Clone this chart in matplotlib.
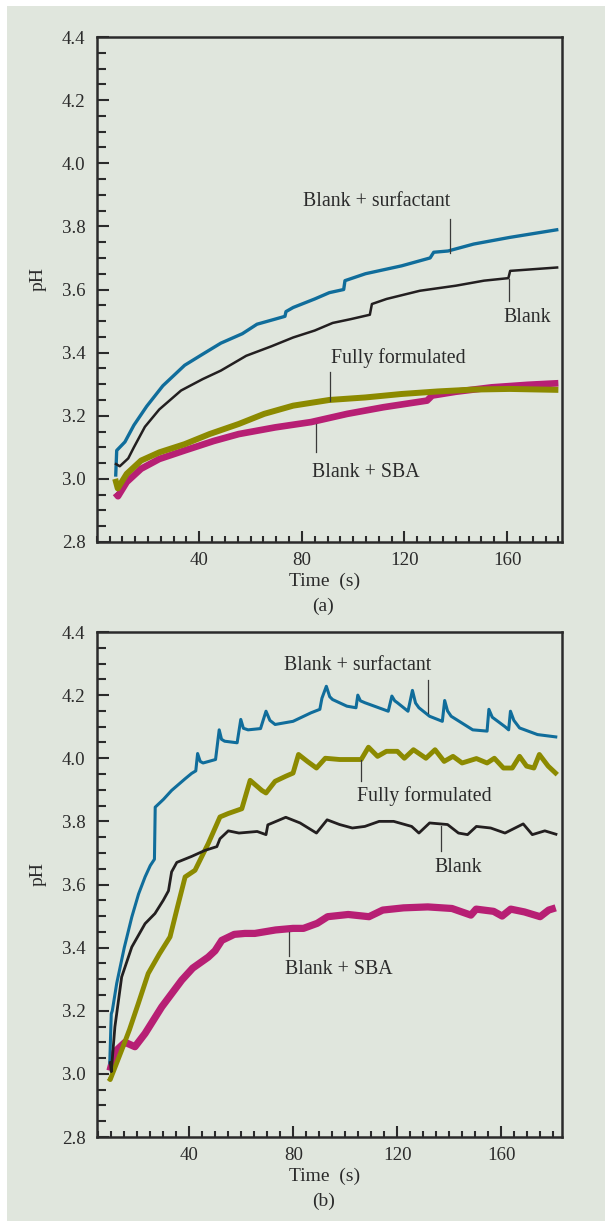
import matplotlib
matplotlib.use('Agg')
import matplotlib.pyplot as plt
from matplotlib.patches import Rectangle
from matplotlib.ticker import MultipleLocator, FixedLocator, FormatStrFormatter

plt.rcParams['font.family'] = ['Liberation Serif', 'DejaVu Serif']

BG = '#e0e6dd'
INK = '#2b2b2b'
BLUE = '#106d9b'
BLACK = '#231f20'
OLIVE = '#8c8a00'
MAGENTA = '#b71f74'

# ---- panel (a): (time s, pH)
a_surfactant = [(7.4, 3.007), (7.8, 3.09), (11.0, 3.117), (14.5, 3.17), (19.5, 3.23), (25.8, 3.295),
                (34.3, 3.36), (41.3, 3.395), (48.4, 3.43), (56.8, 3.46), (62.5, 3.49), (69.5, 3.506),
                (73.4, 3.515), (73.8, 3.53), (76.6, 3.543), (85.0, 3.57), (90.7, 3.59), (96.3, 3.60),
                (96.8, 3.628), (104.8, 3.65), (118.9, 3.675), (130.0, 3.70), (131.4, 3.718),
                (137.0, 3.722), (147.0, 3.744), (161.0, 3.765), (180.0, 3.79)]
a_blank = [(7.1, 3.049), (9.0, 3.04), (12.3, 3.065), (14.5, 3.1), (18.8, 3.165), (24.4, 3.22),
           (32.9, 3.28), (41.3, 3.316), (48.4, 3.343), (58.3, 3.39), (68.1, 3.42), (76.6, 3.448),
           (85.0, 3.47), (92.0, 3.494), (99.0, 3.506), (106.5, 3.52), (107.3, 3.554), (113.0, 3.57),
           (126.0, 3.596), (140.0, 3.612), (151.0, 3.628), (160.5, 3.636), (161.2, 3.659), (180.0, 3.67)]
a_full = [(7.2, 3.0), (8.2, 2.97), (11.7, 3.016), (17.3, 3.058), (24.4, 3.084), (34.3, 3.11),
          (44.0, 3.142), (55.4, 3.174), (65.3, 3.206), (76.6, 3.232), (90.7, 3.25), (104.8, 3.258),
          (118.9, 3.269), (133.0, 3.277), (147.0, 3.283), (161.0, 3.285), (180.0, 3.282)]
a_sba = [(7.3, 2.955), (8.3, 2.945), (11.7, 2.99), (17.3, 3.032), (24.4, 3.063), (34.3, 3.09),
         (45.6, 3.12), (55.4, 3.142), (69.5, 3.163), (83.6, 3.18), (97.7, 3.206), (111.8, 3.227),
         (128.8, 3.248), (130.8, 3.264), (140.0, 3.276), (154.0, 3.29), (168.0, 3.298), (180.0, 3.303)]

# ---- panel (b)
b_surfactant = [(9.4, 3.03), (10.0, 3.19), (10.4, 3.20), (12.1, 3.287), (15.0, 3.40), (17.9, 3.497),
                (20.5, 3.57), (23.0, 3.624), (25.0, 3.66), (26.6, 3.68), (26.9, 3.845), (30.1, 3.87),
                (33.2, 3.898), (38.4, 3.935), (40.9, 3.952), (42.5, 3.96), (43.2, 4.015), (44.2, 3.99),
                (45.3, 3.985), (50.1, 3.996),
                (51.5, 4.09), (52.4, 4.06), (53.6, 4.054), (58.4, 4.049), (59.8, 4.123), (60.8, 4.095),
                (62.6, 4.09), (67.4, 4.094), (69.5, 4.149), (71.0, 4.12), (73.0, 4.107), (79.9, 4.117),
                (86.8, 4.144), (90.2, 4.155), (91.0, 4.19), (92.7, 4.228), (94.0, 4.195), (95.1, 4.186),
                (100.6, 4.165), (104.1, 4.16), (104.8, 4.2), (105.8, 4.182), (107.5, 4.176),
                (116.5, 4.149), (117.9, 4.197), (119.0, 4.182), (120.0, 4.176), (124.1, 4.149),
                (125.8, 4.215), (127.0, 4.175), (128.3, 4.16), (132.4, 4.133), (137.3, 4.117),
                (138.2, 4.183), (139.3, 4.15), (140.7, 4.133), (149.0, 4.09), (154.5, 4.086),
                (155.2, 4.155), (156.5, 4.13), (161.4, 4.1), (162.8, 4.09), (163.5, 4.149),
                (164.8, 4.12), (167.0, 4.096), (173.9, 4.075), (181.5, 4.067)]
b_full = [(8.9, 2.987), (9.6, 2.982), (14.0, 3.075), (17.0, 3.14), (20.4, 3.223), (24.2, 3.318),
          (28.5, 3.38), (32.6, 3.434), (35.5, 3.53), (38.4, 3.624), (42.2, 3.645), (47.3, 3.73),
          (51.8, 3.814), (55.0, 3.825), (60.2, 3.84), (63.4, 3.93), (67.9, 3.898), (69.5, 3.89),
          (73.0, 3.927), (77.1, 3.943),
          (79.9, 3.953), (82.0, 4.012), (85.4, 3.99), (88.9, 3.969), (92.3, 4.0), (97.8, 3.996),
          (106.1, 3.996), (108.9, 4.035), (112.4, 4.006), (115.8, 4.022), (120.0, 4.022),
          (122.7, 4.0), (126.2, 4.027), (131.0, 4.0), (134.5, 4.027), (138.0, 3.99), (141.4, 4.006),
          (144.9, 3.985), (150.4, 3.999), (154.5, 3.985), (157.3, 4.0), (160.8, 3.969),
          (164.2, 3.969), (167.0, 4.006), (169.7, 3.975), (172.5, 3.969), (174.6, 4.012),
          (178.0, 3.975), (181.5, 3.948)]
b_blank = [(9.6, 3.04), (10.0, 3.007), (11.4, 3.149), (14.0, 3.307), (17.9, 3.402), (23.0, 3.476),
           (26.8, 3.508), (30.0, 3.55), (32.0, 3.58), (33.2, 3.64), (35.2, 3.67), (40.9, 3.689),
           (46.0, 3.708), (50.6, 3.72), (51.8, 3.745), (55.0, 3.77), (59.1, 3.763),
           (66.1, 3.768), (69.5, 3.758), (70.2, 3.789), (77.1, 3.813), (82.6, 3.795), (88.9, 3.763),
           (93.0, 3.805), (97.8, 3.79), (102.7, 3.779), (107.5, 3.784), (113.0, 3.8), (118.6, 3.8),
           (125.5, 3.784), (128.3, 3.763), (132.4, 3.795), (139.3, 3.79), (143.5, 3.763),
           (147.0, 3.758), (150.4, 3.784), (155.9, 3.779), (161.4, 3.763), (168.4, 3.792),
           (171.9, 3.758), (176.7, 3.77), (181.5, 3.758)]
b_sba = [(9.5, 3.01), (11.4, 3.07), (15.3, 3.10), (19.1, 3.086), (23.0, 3.128), (29.4, 3.212),
         (37.1, 3.297), (41.3, 3.335), (47.3, 3.37), (49.9, 3.39), (52.5, 3.423), (57.3, 3.442),
         (61.4, 3.445), (65.2, 3.445), (73.2, 3.456), (79.9, 3.461), (83.9, 3.461),
         (89.2, 3.477), (93.2, 3.498), (101.1, 3.505), (109.1, 3.498), (114.4, 3.519),
         (122.4, 3.526), (131.7, 3.529), (141.0, 3.524), (148.3, 3.503), (150.3, 3.522),
         (157.0, 3.515), (160.3, 3.5), (163.6, 3.522), (168.9, 3.513), (174.9, 3.498),
         (178.2, 3.519), (180.9, 3.526)]

# labels: (text, text x, text y, leader x, leader y0, leader y1)
a_labels = [('Blank + surfactant', 109, 3.88, 137.7, 3.823, 3.717),
            ('Blank', 168, 3.51, 160.8, 3.633, 3.564),
            ('Fully formulated', 117.5, 3.382, 91.1, 3.338, 3.248),
            ('Blank + SBA', 105, 3.02, 85.5, 3.174, 3.084)]
b_labels = [('Blank + surfactant', 104.8, 4.295, 131.7, 4.247, 4.144),
            ('Fully formulated', 130.3, 3.879, 106.1, 3.996, 3.927),
            ('Blank', 143.5, 3.654, 136.6, 3.784, 3.705),
            ('Blank + SBA', 97.4, 3.33, 78.5, 3.45, 3.372)]

X_MAJOR = [40, 80, 120, 160]
W, H = 605, 1221


def draw_panel(ax, series, labels, xlim, tag):
    ax.set_facecolor(BG)
    for pts, color, lw in series:
        t, ph = zip(*pts)
        ax.plot(t, ph, color=color, lw=lw, solid_joinstyle='round', solid_capstyle='butt')
    for text, tx, ty, lx, ly0, ly1 in labels:
        ax.text(tx, ty, text, ha='center', va='center', fontsize=14.3, color=INK)
        ax.plot([lx, lx], [ly0, ly1], color='#3a3a3a', lw=0.9)
    ax.set_xlim(*xlim)
    ax.set_ylim(2.8, 4.4)
    ax.xaxis.set_major_locator(FixedLocator(X_MAJOR))
    ax.xaxis.set_minor_locator(MultipleLocator(5))
    ax.yaxis.set_major_locator(MultipleLocator(0.2))
    ax.yaxis.set_minor_locator(MultipleLocator(0.05))
    ax.yaxis.set_major_formatter(FormatStrFormatter('%.1f'))
    for s in ax.spines.values():
        s.set_linewidth(1.8)
        s.set_color(INK)
    ax.tick_params(axis='both', which='both', direction='in', color=INK, width=1.5,
                   labelsize=13.6, labelcolor=INK)
    ax.tick_params(axis='x', which='major', length=8, pad=7)
    ax.tick_params(axis='x', which='minor', length=4.5)
    ax.tick_params(axis='y', which='major', length=8.5, pad=8)
    ax.tick_params(axis='y', which='minor', length=6.5)
    ax.text((38 - 96.7) / 465, 0.52, 'pH', transform=ax.transAxes, rotation=90,
            ha='center', va='center', fontsize=14, color=INK)
    ax.text(0.49, -0.078, 'Time  (s)', transform=ax.transAxes, ha='center', va='center',
            fontsize=14, color=INK)
    ax.text(0.487, -0.127, tag, transform=ax.transAxes, ha='center', va='center',
            fontsize=14, color=INK)


fig = plt.figure(figsize=(W / 100, H / 100), dpi=100)
fig.patch.set_facecolor('white')
fig.add_artist(Rectangle((7 / W, 0), 1 - 7 / W, 1 - 6 / H, transform=fig.transFigure,
                         facecolor=BG, edgecolor='none', zorder=-10))

left, width, height = 96.7 / W, 465 / W, 505 / H
ax_a = fig.add_axes([left, 1 - 542 / H, width, height])
ax_b = fig.add_axes([left, 1 - 1137 / H, width, height])

draw_panel(ax_a, [(a_sba, MAGENTA, 4.8), (a_full, OLIVE, 4.3), (a_surfactant, BLUE, 2.4),
                  (a_blank, BLACK, 1.8)], a_labels, (0, 181.3), '(a)')
draw_panel(ax_b, [(b_sba, MAGENTA, 5.2), (b_full, OLIVE, 3.5), (b_surfactant, BLUE, 2.2),
                  (b_blank, BLACK, 2.0)], b_labels, (4.4, 183.2), '(b)')

fig.savefig('out.png', dpi=100)
